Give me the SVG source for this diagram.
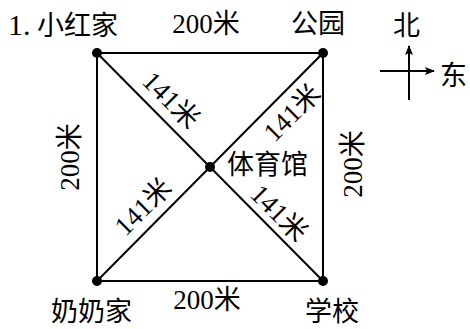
<svg xmlns="http://www.w3.org/2000/svg" width="470" height="329" viewBox="0 0 470 329">
<style>
text{font-family:"Liberation Serif","Noto Sans CJK SC",serif;font-size:27px;fill:#000}
.c{text-anchor:middle;dominant-baseline:central}
.ln{stroke:#000;stroke-width:2;fill:none}
.dot{fill:#000}
</style>
<defs>
<marker id="ah" viewBox="0 0 10 10" refX="9" refY="5" markerWidth="10" markerHeight="10" markerUnits="userSpaceOnUse" orient="auto">
<path d="M0,1 L10,5 L0,9 L2,5 Z" fill="#000"/>
</marker>
</defs>
<rect width="470" height="329" fill="#fff"/>
<g id="connectors">
<line class="ln" x1="97" y1="53" x2="323" y2="53"/>
<line class="ln" x1="97" y1="281" x2="323" y2="281"/>
<line class="ln" x1="97" y1="53" x2="97" y2="281"/>
<line class="ln" x1="323" y1="53" x2="323" y2="281"/>
<line class="ln" x1="97" y1="53" x2="323" y2="281"/>
<line class="ln" x1="323" y1="53" x2="97" y2="281"/>
<text class="c" x="206" y="24">200米</text>
<text class="c" x="207" y="300">200米</text>
<text class="c" transform="translate(70,157) rotate(-90)">200米</text>
<text class="c" transform="translate(353,164) rotate(-90)">200米</text>
<text class="c" transform="translate(171,100) rotate(45)">141米</text>
<text class="c" transform="translate(292,113) rotate(-45)">141米</text>
<text class="c" transform="translate(143,207) rotate(-45)">141米</text>
<text class="c" transform="translate(279,213) rotate(45)">141米</text>
</g>
<text x="8" y="35" style="font-size:30px">1.</text>
<g id="xiaohong">
<circle class="dot" cx="97" cy="53" r="5"/>
<text x="37" y="35">小红家</text>
</g>
<g id="gongyuan">
<circle class="dot" cx="323" cy="53" r="5"/>
<text x="291" y="33">公园</text>
</g>
<g id="tiyuguan">
<circle class="dot" cx="210" cy="167" r="5"/>
<text x="227" y="174">体育馆</text>
</g>
<g id="nainai">
<circle class="dot" cx="97" cy="281" r="5"/>
<text x="51" y="321">奶奶家</text>
</g>
<g id="xuexiao">
<circle class="dot" cx="323" cy="281" r="5"/>
<text x="305" y="321">学校</text>
</g>
<g id="compass">
<line class="ln" x1="409" y1="100" x2="409" y2="46" marker-end="url(#ah)"/>
<line class="ln" x1="380" y1="71" x2="434" y2="71" marker-end="url(#ah)"/>
<text x="393" y="35">北</text>
<text x="440" y="85">东</text>
</g>
</svg>
